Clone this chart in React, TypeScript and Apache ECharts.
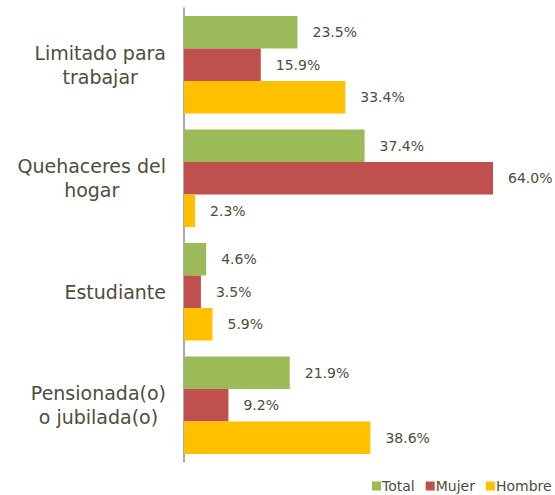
import React, { useEffect, useRef } from "react";
import * as echarts from "echarts";

const categories = ["Limitado para\ntrabajar", "Quehaceres del\nhogar", "Estudiante", "Pensionada(o)\no jubilada(o)"];
const seriesNames = ["Total", "Mujer", "Hombre"];
const totalValues = [23.5, 37.4, 4.6, 21.9];
const mujerValues = [15.9, 64.0, 3.5, 9.2];
const hombreValues = [33.4, 2.3, 5.9, 38.6];
const colors = ["#9BBB59", "#C0504D", "#FFC000"];

const textColor = "#4f4c3b";
const font = "DejaVu Sans, Verdana, sans-serif";

export default function App() {
  const ref = useRef<HTMLDivElement>(null);
  useEffect(() => {
    if (!ref.current) return;
    const chart = echarts.init(ref.current, null, { renderer: "svg" });
    const data = [totalValues, mujerValues, hombreValues];
    chart.setOption({
      animation: false,
      grid: { left: 184, top: 8, width: 338, height: 454 },
      legend: {
        left: 372,
        top: 479,
        width: 190,
        padding: 0,
        itemWidth: 9,
        itemHeight: 9,
        itemGap: 11,
        icon: "rect",
        textStyle: { fontFamily: font, fontSize: 14, color: textColor, padding: [0, 0, 0, -4] },
        data: seriesNames,
      },
      xAxis: {
        type: "value",
        min: 0,
        max: 70,
        show: false,
        splitLine: { show: false },
      },
      yAxis: {
        type: "category",
        inverse: true,
        data: categories,
        axisLine: { show: true, lineStyle: { color: "#8c8c8c", width: 1.5 } },
        axisTick: { show: false },
        axisLabel: {
          align: "right",
          margin: 18,
          formatter: (v: string) => v.split("\n").map((l) => `{c|${l}}`).join("\n"),
          rich: {
            c: {
              align: "center",
              fontSize: 19,
              lineHeight: 24,
              color: textColor,
              fontFamily: font,
            },
          },
        },
      },
      series: seriesNames.map((name, i) => ({
        name,
        type: "bar",
        data: data[i],
        barCategoryGap: "14%",
        barGap: "0%",
        itemStyle: { color: colors[i] },
        label: {
          show: true,
          position: "right",
          distance: 15,
          fontSize: 14,
          color: textColor,
          fontFamily: font,
          formatter: (p: any) => p.value.toFixed(1) + "%",
        },
      })),
    });
    return () => chart.dispose();
  }, []);
  return <div ref={ref} style={{ width: 555, height: 495, position: "absolute", left: 0, top: 0 }} />;
}
